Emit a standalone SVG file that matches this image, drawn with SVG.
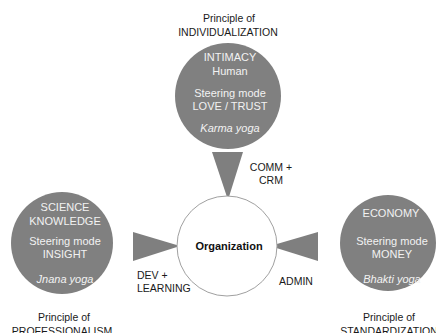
<svg xmlns="http://www.w3.org/2000/svg" width="436" height="333" viewBox="0 0 436 333">
  <style>
    .bubble { fill: #808080; }
    .arrow { fill: #7f7f7f; }
    .core { fill: #ffffff; stroke: #a0a0a0; stroke-width: 1; }
    text { font-family: "Liberation Sans", Arial, sans-serif; text-anchor: middle; }
    .in { fill: #f2f2f2; font-size: 11px; }
    .yoga { font-style: italic; }
    .lbl { fill: #1a1a1a; font-size: 10.5px; }
    .org { fill: #111111; font-size: 11px; font-weight: bold; }
  </style>
  <rect width="436" height="333" fill="#ffffff"/>

  <!-- connectors: wedge arrows pointing at the organization -->
  <g id="connectors">
    <polygon class="arrow" points="212,152 243,152 228,200"/>
    <polygon class="arrow" points="133,232 133,261 180,246"/>
    <polygon class="arrow" points="318,232 318,261 270,246"/>
    <text class="lbl" x="271" y="171">COMM +</text>
    <text class="lbl" x="271" y="184">CRM</text>
    <text class="lbl" x="137" y="279" style="text-anchor:start">DEV +</text>
    <text class="lbl" x="137" y="292" style="text-anchor:start">LEARNING</text>
    <text class="lbl" x="296" y="285">ADMIN</text>
  </g>

  <g id="organization">
    <circle class="core" cx="227" cy="246" r="50"/>
    <text class="org" x="229" y="250">Organization</text>
  </g>

  <g id="intimacy">
    <text class="lbl" x="229" y="22">Principle of</text>
    <text class="lbl" x="228" y="36">INDIVIDUALIZATION</text>
    <circle class="bubble" cx="228" cy="96" r="53"/>
    <text class="in" x="230" y="61">INTIMACY</text>
    <text class="in" x="230" y="75">Human</text>
    <text class="in" x="230" y="97">Steering mode</text>
    <text class="in" x="230" y="110">LOVE / TRUST</text>
    <text class="in yoga" x="230" y="132">Karma yoga</text>
  </g>

  <g id="science">
    <circle class="bubble" cx="62" cy="243" r="51"/>
    <text class="in" x="65" y="211">SCIENCE</text>
    <text class="in" x="65" y="225">KNOWLEDGE</text>
    <text class="in" x="65" y="245">Steering mode</text>
    <text class="in" x="65" y="258">INSIGHT</text>
    <text class="in yoga" x="65" y="283">Jnana yoga</text>
    <text class="lbl" x="64" y="321">Principle of</text>
    <text class="lbl" x="62" y="335">PROFESSIONALISM</text>
  </g>

  <g id="economy">
    <circle class="bubble" cx="388" cy="243" r="48"/>
    <text class="in" x="391" y="217">ECONOMY</text>
    <text class="in" x="392" y="245">Steering mode</text>
    <text class="in" x="392" y="258">MONEY</text>
    <text class="in yoga" x="392" y="283">Bhakti yoga</text>
    <text class="lbl" x="389" y="321">Principle of</text>
    <text class="lbl" x="389" y="335">STANDARDIZATION</text>
  </g>
</svg>
